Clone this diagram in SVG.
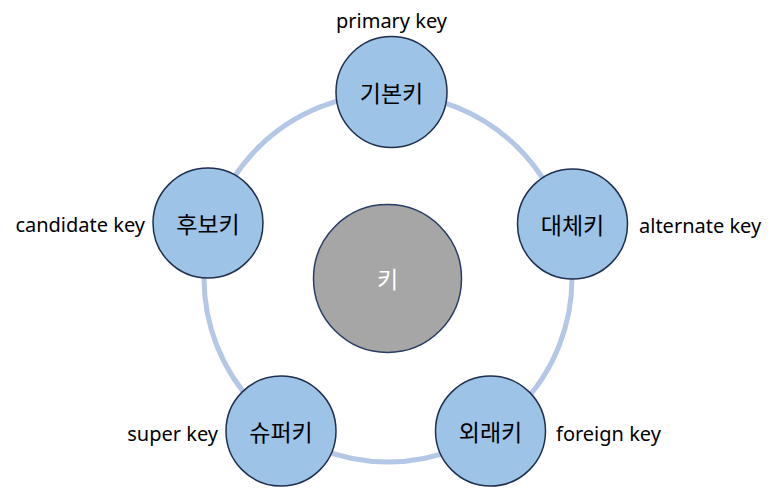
<svg xmlns="http://www.w3.org/2000/svg" width="773" height="488" viewBox="0 0 773 488">
<style>
.node{fill:#9dc3e6;stroke:#1f2f4f;stroke-width:1.5}
.core{fill:#a6a6a6;stroke:#2a3d66;stroke-width:1.5}
.kt{font-family:"Noto Sans CJK KR","Noto Sans",sans-serif;font-size:23px;fill:#000;text-anchor:middle;dominant-baseline:central}
.lb{font-family:"Noto Sans","Noto Sans CJK KR",sans-serif;font-size:20px;fill:#000;dominant-baseline:central}
</style>
<rect width="773" height="488" fill="#fff"/>
<g id="connectors">
<circle cx="388" cy="278" r="184" fill="none" stroke="#b4c7e7" stroke-width="5"/>
</g>
<g id="center">
<circle class="core" cx="387.5" cy="278.5" r="74"/>
<text class="kt" x="387.5" y="278" style="fill:#fff">키</text>
</g>
<g id="primary">
<circle class="node" cx="391.5" cy="92" r="55.5"/>
<text class="kt" x="391.5" y="92">기본키</text>
<text class="lb" x="391.5" y="20" text-anchor="middle">primary key</text>
</g>
<g id="alternate">
<circle class="node" cx="572.5" cy="224" r="55"/>
<text class="kt" x="572.5" y="224">대체키</text>
<text class="lb" x="639" y="225">alternate key</text>
</g>
<g id="foreign">
<circle class="node" cx="490.5" cy="431" r="55"/>
<text class="kt" x="490.5" y="431">외래키</text>
<text class="lb" x="556" y="433">foreign key</text>
</g>
<g id="super">
<circle class="node" cx="281" cy="431" r="55"/>
<text class="kt" x="281" y="431">슈퍼키</text>
<text class="lb" x="218" y="433" text-anchor="end">super key</text>
</g>
<g id="candidate">
<circle class="node" cx="208" cy="223" r="55"/>
<text class="kt" x="208" y="223">후보키</text>
<text class="lb" x="145" y="224" text-anchor="end">candidate key</text>
</g>
</svg>
